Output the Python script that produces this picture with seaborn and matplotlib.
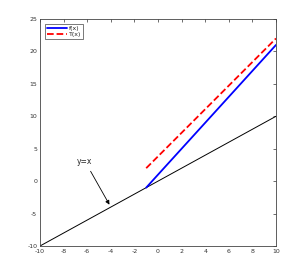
import numpy as np
import pandas as pd
import matplotlib
matplotlib.use("Agg")
import matplotlib.pyplot as plt
import seaborn as sns

# data
x_ident = [-10, 10]
y_ident = [-10, 10]
x_f = [-1, 10]
y_f = [-1, 21]
x_t = [-1, 10]
y_t = [2, 22]

x_ticks = list(range(-10, 11, 2))
y_ticks = list(range(-10, 26, 5))


def main():
    sns.set_style("white")
    plt.rcParams["font.family"] = ["DejaVu Sans"]
    plt.rcParams["axes.unicode_minus"] = False

    fig = plt.figure(figsize=(3.05, 2.77), dpi=100)
    ax = fig.add_axes([40 / 305, 1 - 246 / 277, 236 / 305, 227 / 277])

    ident = pd.DataFrame({"x": x_ident, "y": y_ident})
    f_df = pd.DataFrame({"x": x_f, "y": y_f})
    t_df = pd.DataFrame({"x": x_t, "y": y_t})

    sns.lineplot(data=ident, x="x", y="y", ax=ax, color="black", linewidth=0.7)
    sns.lineplot(data=f_df, x="x", y="y", ax=ax, color="blue", linewidth=1.3, label="f(x)")
    sns.lineplot(data=t_df, x="x", y="y", ax=ax, color="red", linewidth=1.3,
                 linestyle="--", dashes=(2, 1), label="T(x)")

    ax.annotate("y=x", xy=(-4, -4), xytext=(-6.2, 2.4), fontsize=5.5,
                ha="center", va="bottom",
                arrowprops=dict(arrowstyle="-|>", color="black", lw=0.6,
                                mutation_scale=6))

    ax.set_xlim(-10, 10)
    ax.set_ylim(-10, 25)
    ax.set_xticks(x_ticks)
    ax.set_yticks(y_ticks)
    ax.set_xlabel("")
    ax.set_ylabel("")
    ax.tick_params(direction="in", length=2, width=0.5, labelsize=4.5,
                   colors="#333333", top=True, right=True, pad=2)
    for s in ax.spines.values():
        s.set_visible(True)
        s.set_color("#444444")
        s.set_linewidth(0.6)

    leg = ax.legend(loc="upper left", fontsize=4.5, handlelength=3.2,
                    borderpad=0.3, labelspacing=0.1, handletextpad=0.3,
                    borderaxespad=0.8, fancybox=False, framealpha=1,
                    edgecolor="#444444")
    leg.get_frame().set_linewidth(0.5)

    fig.savefig("out.png", dpi=100, facecolor="white")
    plt.close(fig)


if __name__ == "__main__":
    main()
